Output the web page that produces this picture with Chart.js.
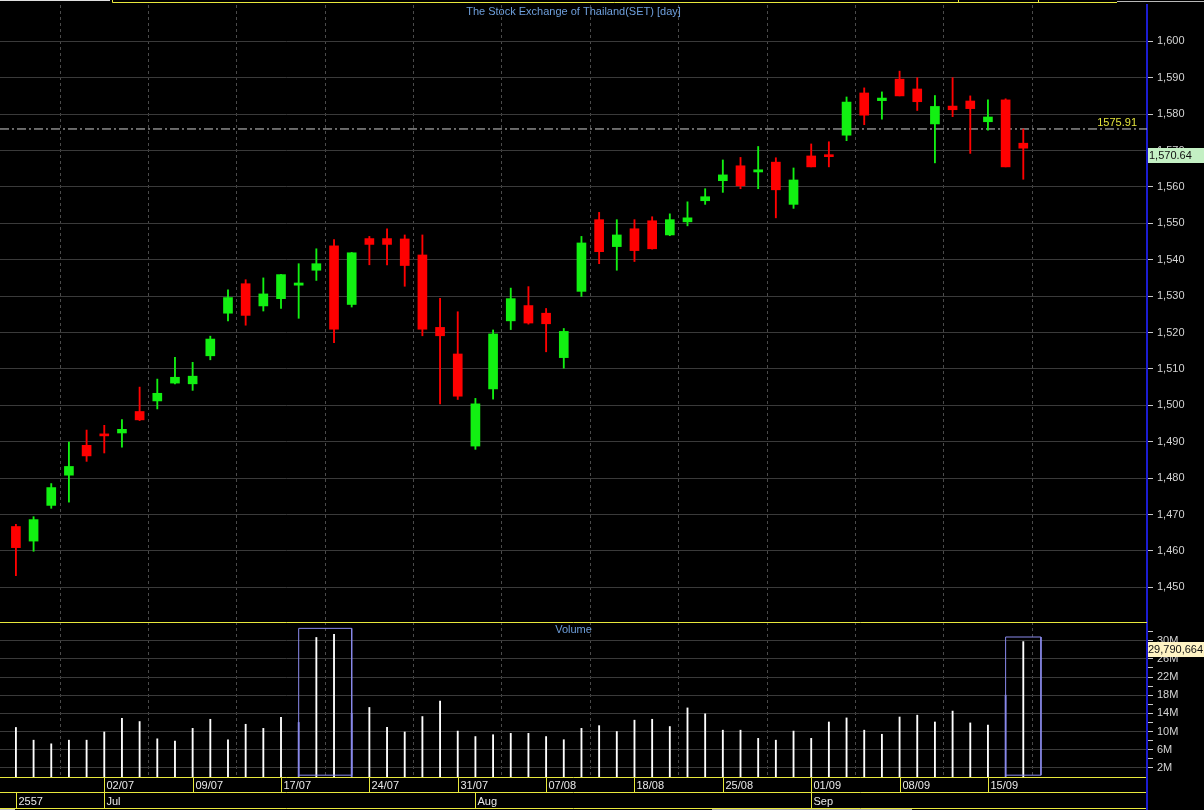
<!DOCTYPE html>
<html>
<head>
<meta charset="utf-8">
<title>The Stock Exchange of Thailand(SET) [day]</title>
<script src="https://cdn.jsdelivr.net/npm/chart.js@4.4.1/dist/chart.umd.min.js"></script>
<style>
  html, body { margin: 0; background: #000; }
  #wrap { position: relative; width: 1204px; height: 810px; overflow: hidden; background: #000; }
  canvas { position: absolute; left: 0; }
  #price { top: 0; }
  #volume { top: 622px; }
</style>
</head>
<body>
<div id="wrap">
  <canvas id="price" width="1204" height="622"></canvas>
  <canvas id="volume" width="1204" height="188"></canvas>
</div>
<script>
// Daily candles, index 0 = first bar on the left
const opens = [1466.7, 1462.7, 1472.5, 1480.8, 1489.0, 1492.0, 1492.4, 1498.3, 1501.2, 1506.1,
  1505.9, 1513.6, 1525.3, 1533.4, 1527.3, 1529.3, 1533.0, 1537.1, 1543.8, 1527.7,
  1545.8, 1545.8, 1545.7, 1541.3, 1521.4, 1514.1, 1488.8, 1504.5, 1523.2, 1527.4,
  1525.3, 1513.1, 1531.3, 1551.0, 1543.6, 1548.5, 1550.7, 1546.8, 1550.4, 1556.2,
  1561.7, 1565.8, 1564.1, 1566.8, 1555.2, 1568.5, 1568.7, 1574.2, 1585.8, 1583.7,
  1589.6, 1586.9, 1577.3, 1582.2, 1583.6, 1577.9, 1583.9, 1572.0];
const highs = [1467.3, 1469.4, 1478.5, 1489.9, 1493.2, 1494.5, 1496.1, 1505.0, 1507.2, 1513.2,
  1511.8, 1519.0, 1531.7, 1534.5, 1535.0, 1536.0, 1538.9, 1543.0, 1545.5, 1542.0,
  1546.4, 1548.5, 1546.8, 1546.8, 1529.4, 1525.7, 1501.9, 1520.7, 1532.2, 1532.6,
  1526.6, 1521.1, 1546.4, 1553.0, 1551.0, 1551.0, 1551.8, 1552.6, 1555.9, 1559.5,
  1567.4, 1568.1, 1571.1, 1568.0, 1565.2, 1571.8, 1572.4, 1584.7, 1587.2, 1586.1,
  1591.8, 1590.0, 1585.1, 1590.0, 1585.0, 1583.9, 1584.2, 1575.91];
const lows = [1453.2, 1459.9, 1471.7, 1473.4, 1484.6, 1486.9, 1488.5, 1495.8, 1499.0, 1505.9,
  1504.1, 1512.5, 1523.2, 1522.0, 1525.9, 1526.6, 1523.9, 1534.3, 1517.2, 1527.0,
  1538.6, 1538.6, 1532.7, 1519.1, 1500.4, 1501.6, 1487.9, 1501.7, 1520.8, 1522.3,
  1514.7, 1510.2, 1529.9, 1538.9, 1537.1, 1539.5, 1542.9, 1546.6, 1549.3, 1555.2,
  1558.5, 1559.5, 1559.5, 1551.5, 1554.1, 1565.5, 1565.5, 1572.7, 1577.1, 1578.6,
  1585.0, 1581.0, 1566.6, 1579.3, 1569.2, 1575.6, 1565.5, 1562.1];
const closes = [1460.9, 1468.6, 1477.4, 1483.2, 1486.1, 1491.6, 1493.4, 1496.0, 1503.3, 1507.7,
  1508.0, 1518.2, 1529.6, 1524.7, 1530.6, 1535.9, 1533.6, 1538.9, 1520.9, 1541.9,
  1544.2, 1544.2, 1538.4, 1520.9, 1519.1, 1502.5, 1500.4, 1519.6, 1529.3, 1522.6,
  1522.4, 1520.3, 1544.6, 1542.2, 1546.8, 1542.5, 1543.0, 1551.0, 1551.5, 1557.3,
  1563.3, 1560.3, 1564.7, 1559.2, 1561.9, 1565.5, 1568.3, 1583.3, 1579.7, 1584.4,
  1585.0, 1583.4, 1582.1, 1581.2, 1581.5, 1579.2, 1565.5, 1570.64];
// Volume in millions of shares
const volumesM = [10.9, 8.1, 7.3, 8.1, 8.1, 9.9, 12.9, 12.2, 8.4, 7.9,
  10.7, 12.7, 8.2, 11.6, 10.7, 13.1, 12.0, 30.7, 31.4, 14.0,
  15.3, 10.9, 9.9, 13.3, 16.7, 10.1, 8.9, 9.3, 9.6, 9.6,
  8.9, 8.2, 10.7, 11.3, 10.0, 12.5, 12.7, 11.1, 15.2, 13.9,
  10.3, 10.3, 8.5, 8.1, 10.1, 8.5, 12.1, 13.0, 10.3, 9.4,
  13.2, 13.6, 12.1, 14.5, 11.9, 11.4, 18.0, 29.790664];

// Bottom axis: date row and month row
const dateTickIdx = [5, 10, 15, 20, 25, 30, 35, 40, 45, 50, 55];
const dateTickLabels = ["02/07", "09/07", "17/07", "24/07", "31/07", "07/08", "18/08", "25/08", "01/09", "08/09", "15/09"];
const monthIdx = [0, 5, 26, 45];
const monthLabels = ["2557", "Jul", "Aug", "Sep"];

// Right axis ticks
const priceTicks = [1450, 1460, 1470, 1480, 1490, 1500, 1510, 1520, 1530, 1540, 1550, 1560, 1570, 1580, 1590, 1600];
const volumeTicksM = [2, 4, 6, 8, 10, 12, 14, 16, 18, 20, 22, 24, 26, 28, 30, 32];
const volumeLabelsM = [2, 6, 10, 14, 18, 22, 26, 30];

// Horizontal level line and highlighted volume boxes
const levelLine = 1575.91;
const highlightFrom = [16, 56];
const highlightTo = [19, 58];
const highlightTopM = [32.7, 30.8];
const highlightBaseM = 0.4;

// Scale ranges
const X_MIN = -0.9, X_MAX = 64.0;
const PRICE_MIN = 1440.47, PRICE_MAX = 1609.97;
const VOL_MAX = 34.1;

// Colours / fonts
const GREEN = "#12f012";
const RED = "#ff0000";
const YELLOW = "#e8e83c";
const AXIS_BLUE = "#1c1cd0";
const BOX_BLUE = "#8a8aec";
const GRID = "#3a3a3a";
const VGRID = "#4a4a4a";
const LABEL = "#d4d4d4";
const TITLE_BLUE = "#6e9fdc";
const FONT_FAMILY = "'Liberation Sans', Arial, sans-serif";
const FONT = `11px ${FONT_FAMILY}`;
const AXIS_WIDTH = 57;

const candleColors = closes.map((c, i) => (c >= opens[i] ? GREEN : RED));
// bars lying under a highlight box edge take the edge colour
const boxEdges = [...highlightFrom, ...highlightTo];
const volumeColors = volumesM.map((v, i) => (boxEdges.includes(i) ? BOX_BLUE : "#ffffff"));

// Shared x axis (bar index), only gridlines at the date ticks
const xAxis = (height) => ({
  type: "linear",
  min: X_MIN,
  max: X_MAX,
  offset: false,
  afterBuildTicks: (s) => { s.ticks = dateTickIdx.map((v) => ({ value: v })); },
  afterFit: (s) => { s.height = height; s.paddingLeft = 0; s.paddingRight = 0; },
  ticks: { display: false, autoSkip: false },
  grid: { color: VGRID, drawTicks: false },
  border: { display: false, dash: [3, 3] },
});

// Price panel decorations: title, level label, last close tag, top frame
const priceDecor = {
  id: "priceDecor",
  afterDraw(chart) {
    const { ctx, chartArea, scales } = chart;
    ctx.save();
    ctx.font = FONT;

    ctx.fillStyle = TITLE_BLUE;
    ctx.textAlign = "center";
    ctx.textBaseline = "middle";
    ctx.fillText("The Stock Exchange of Thailand(SET) [day]", (chartArea.left + chartArea.right) / 2, 12);

    const ly = scales.y.getPixelForValue(levelLine);
    ctx.fillStyle = "#e4e43c";
    ctx.textAlign = "right";
    ctx.textBaseline = "bottom";
    ctx.fillText(levelLine.toFixed(2), chartArea.right - 10, ly - 1);

    const last = closes[closes.length - 1];
    const cy = Math.round(scales.y.getPixelForValue(last));
    ctx.fillStyle = "#c4f0c4";
    ctx.fillRect(chartArea.right + 1, cy, chart.width - chartArea.right - 1, 15);
    ctx.fillStyle = "#111";
    ctx.textAlign = "left";
    ctx.textBaseline = "middle";
    ctx.fillText(last.toLocaleString("en-US", { minimumFractionDigits: 2 }), chartArea.right + 2, cy + 8);

    // toolbar strip along the top edge
    ctx.lineWidth = 1;
    ctx.strokeStyle = "#e0e0e0";
    ctx.beginPath(); ctx.moveTo(0, 0.5); ctx.lineTo(110, 0.5); ctx.stroke();
    ctx.strokeStyle = YELLOW;
    ctx.beginPath();
    ctx.moveTo(112.5, 0); ctx.lineTo(112.5, 2.5); ctx.lineTo(1117, 2.5);
    ctx.moveTo(958.5, 0); ctx.lineTo(958.5, 2.5);
    ctx.moveTo(1038.5, 0); ctx.lineTo(1038.5, 2.5);
    ctx.stroke();
    ctx.strokeStyle = "#b8b8b8";
    ctx.beginPath(); ctx.moveTo(1117, 1.5); ctx.lineTo(1204, 1.5); ctx.stroke();
    ctx.restore();
  },
};

// Volume panel decorations: frame, "Volume" label, date/month rows, last volume tag
const volumeDecor = {
  id: "volumeDecor",
  afterDraw(chart) {
    const { ctx, chartArea, scales, width, height } = chart;
    const px = (v) => Math.round(scales.x.getPixelForValue(v)) + 0.5;
    const r0 = chartArea.bottom + 0.5;
    const r1 = r0 + 15;
    const r2 = r1 + 16;
    ctx.save();
    ctx.font = FONT;
    ctx.lineWidth = 1;
    ctx.strokeStyle = YELLOW;
    ctx.beginPath();
    ctx.moveTo(0, 0.5); ctx.lineTo(chartArea.right, 0.5);
    ctx.moveTo(0, r0); ctx.lineTo(chartArea.right, r0);
    ctx.moveTo(0, r1); ctx.lineTo(chartArea.right, r1);
    ctx.moveTo(0, r2); ctx.lineTo(chartArea.right, r2);
    dateTickIdx.forEach((v) => { ctx.moveTo(px(v), r0); ctx.lineTo(px(v), r1); });
    monthIdx.forEach((v) => { ctx.moveTo(px(v), r1); ctx.lineTo(px(v), r2); });
    ctx.stroke();

    ctx.fillStyle = TITLE_BLUE;
    ctx.textAlign = "center";
    ctx.textBaseline = "middle";
    ctx.fillText("Volume", (chartArea.left + chartArea.right) / 2, 8);

    ctx.fillStyle = "#e8e8e8";
    ctx.textAlign = "left";
    dateTickIdx.forEach((v, i) => ctx.fillText(dateTickLabels[i], px(v) + 2, (r0 + r1) / 2 + 1));
    monthIdx.forEach((v, i) => ctx.fillText(monthLabels[i], px(v) + 2, (r1 + r2) / 2 + 1));

    // axis line continues down through the label rows
    ctx.strokeStyle = AXIS_BLUE;
    ctx.lineWidth = 2;
    ctx.beginPath(); ctx.moveTo(chartArea.right, chartArea.bottom); ctx.lineTo(chartArea.right, height); ctx.stroke();

    // bottom edge bits
    ctx.fillStyle = "#c0c0c0";
    ctx.fillRect(0, r2 + 0.5, 15, 2);
    ctx.fillStyle = "#a8a8a8";
    ctx.fillRect(712, r2 + 0.5, 200, 2);

    const lastVol = volumesM[volumesM.length - 1];
    const vy = Math.round(scales.y.getPixelForValue(lastVol));
    ctx.fillStyle = "#fff4c4";
    ctx.fillRect(chartArea.right + 1, vy, width - chartArea.right - 1, 15);
    ctx.fillStyle = "#111";
    ctx.fillText(Math.round(lastVol * 1e6).toLocaleString("en-US"), chartArea.right + 1, vy + 8);
    ctx.restore();
  },
};

// Price chart: wick bars (low-high) under body bars (open-close)
new Chart(document.getElementById("price"), {
  type: "bar",
  data: {
    datasets: [
      {
        label: "Body",
        data: opens.map((o, i) => ({ x: i, y: [o, closes[i]] })),
        backgroundColor: candleColors,
        barThickness: 9,
        minBarLength: 2,
        grouped: false,
        order: 0,
      },
      {
        label: "Wick",
        data: lows.map((l, i) => ({ x: i, y: [l, highs[i]] })),
        backgroundColor: candleColors,
        barThickness: 1.2,
        grouped: false,
        order: 1,
      },
      {
        type: "line",
        label: "Level",
        data: [{ x: X_MIN, y: levelLine }, { x: X_MAX, y: levelLine }],
        borderColor: "#d0d0d0",
        borderWidth: 1,
        borderDash: [9, 3, 2, 3],
        pointRadius: 0,
        order: 2,
      },
    ],
  },
  options: {
    responsive: false,
    animation: false,
    devicePixelRatio: 1,
    layout: { padding: { top: 5, left: 0, right: 0, bottom: 0 } },
    plugins: { legend: { display: false }, tooltip: { enabled: false } },
    scales: {
      x: xAxis(0),
      y: {
        position: "right",
        min: PRICE_MIN,
        max: PRICE_MAX,
        afterBuildTicks: (s) => { s.ticks = priceTicks.map((v) => ({ value: v })); },
        afterFit: (s) => { s.width = AXIS_WIDTH; s.paddingTop = 0; s.paddingBottom = 0; },
        ticks: {
          color: LABEL,
          autoSkip: false,
          padding: 4,
          font: { family: FONT_FAMILY, size: 11 },
          callback: (v) => v.toLocaleString("en-US"),
        },
        grid: { color: GRID, tickColor: "#c8c8c8", tickLength: 6 },
        border: { display: true, color: AXIS_BLUE, width: 2 },
      },
    },
  },
  plugins: [priceDecor],
});

// Volume chart: thin bars plus outlined highlight boxes
const boxDatasets = highlightFrom.map((a, k) => ({
  type: "line",
  label: "Highlight",
  data: [
    { x: a, y: highlightBaseM }, { x: a, y: highlightTopM[k] },
    { x: highlightTo[k], y: highlightTopM[k] }, { x: highlightTo[k], y: highlightBaseM },
    { x: a, y: highlightBaseM },
  ],
  borderColor: BOX_BLUE,
  borderWidth: 1,
  pointRadius: 0,
  tension: 0,
  order: -1,
}));

new Chart(document.getElementById("volume"), {
  type: "bar",
  data: {
    datasets: [
      {
        label: "Volume",
        data: volumesM.map((v, i) => ({ x: i, y: v })),
        backgroundColor: volumeColors,
        barThickness: 1.2,
        grouped: false,
        order: 1,
      },
      ...boxDatasets,
    ],
  },
  options: {
    responsive: false,
    animation: false,
    devicePixelRatio: 1,
    layout: { padding: 0 },
    plugins: { legend: { display: false }, tooltip: { enabled: false } },
    scales: {
      x: xAxis(33),
      y: {
        position: "right",
        min: 0,
        max: VOL_MAX,
        afterBuildTicks: (s) => { s.ticks = volumeTicksM.map((v) => ({ value: v })); },
        afterFit: (s) => { s.width = AXIS_WIDTH; s.paddingTop = 0; s.paddingBottom = 0; },
        ticks: {
          color: LABEL,
          autoSkip: false,
          padding: 4,
          font: { family: FONT_FAMILY, size: 11 },
          callback: (v) => (volumeLabelsM.includes(v) ? `${v}M` : ""),
        },
        grid: {
          color: (ctx) => (ctx.tick && volumeLabelsM.includes(ctx.tick.value) ? GRID : "rgba(0,0,0,0)"),
          tickColor: "#c8c8c8",
          tickLength: 6,
        },
        border: { display: true, color: AXIS_BLUE, width: 2 },
      },
    },
  },
  plugins: [volumeDecor],
});
</script>
</body>
</html>
